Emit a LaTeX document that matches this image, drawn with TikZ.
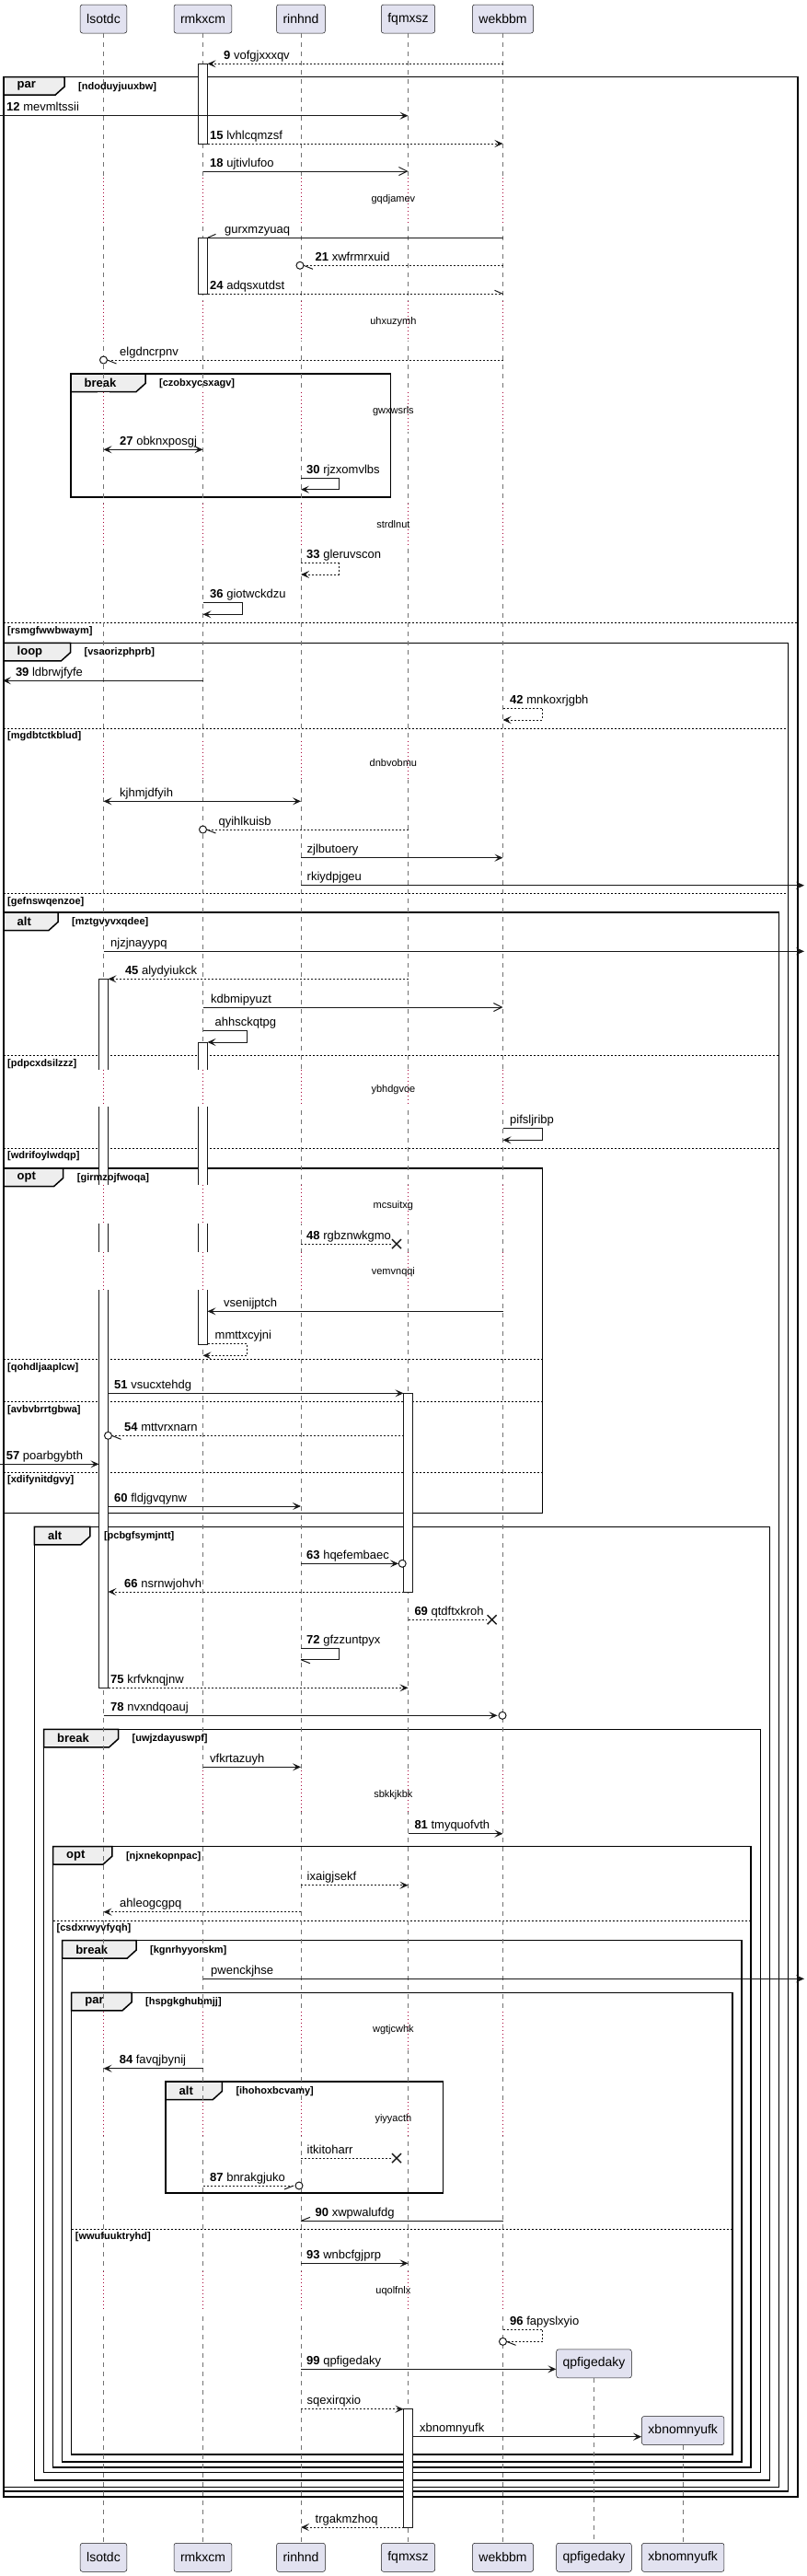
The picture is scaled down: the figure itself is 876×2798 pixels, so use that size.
\documentclass[tikz,border=0pt]{standalone}
\usepackage{fontspec}
\setmainfont{Liberation Sans}
\usetikzlibrary{arrows.meta}
\definecolor{partfill}{HTML}{E2E2F0}
\definecolor{partdraw}{HTML}{181818}
\definecolor{tabfill}{HTML}{EEEEEE}
\definecolor{dlyred}{HTML}{A80036}
\def\xL{112.5}\def\xR{220.5}\def\xN{327}\def\xF{443.5}\def\xW{546.5}\def\xQ{645.5}\def\xX{742.2}
\newcommand{\msgline}[7]{%
  \coordinate (#1a) at (#2,#4);
  \coordinate (#1b) at (#3,#4);
  \draw[#5] (#1a) -- (#1b);
  \node[lbl] (#1t) at (#6,#4-5) {#7};}
\newcommand{\selfmsg}[9]{%
  \coordinate (#1a) at (#2,#5);
  \coordinate (#1c) at (#4,#6);
  \draw[#7] (#1a) -- (#3,#5) -- (#3,#6) -- (#1c);
  \node[lbl] (#1t) at (#8,#5-5) {#9};}
\newcommand{\sqfrm}[7]{%
  \draw[frm] (#2,#3) rectangle (#4,#5);
  \draw[frm, fill=tabfill] (#2,#3) -- (#7,#3) -- (#7,#3+10.5) -- (#7-10,#3+19.5) -- (#2,#3+19.5) -- cycle;
  \node[kindlbl] (#1k) at (#2+14.5,#3+10) {#6};}
\newcommand{\sqguard}[4]{\node[grd] (#1g) at (#2+15,#3+10.5) {#4};}
\newcommand{\sqdiv}[3]{\draw[divl] (#1,#3) -- (#2,#3);}
\newcommand{\sqdivlbl}[4]{\node[grd] (#1) at (#2+4,#3+8.5) {#4};}
\newcommand{\sqdelay}[5]{%
  \foreach \xx in {\xL,\xR,\xN,\xF,\xW} {\fill[white] (\xx-6.5,#2) rectangle (\xx+6.5,#3); \draw[dlyline] (\xx,#2) -- (\xx,#3);}
  \node[dlytxt] (#1) at (427.4,#4) {#5};}
\newcommand{\lostx}[3]{\draw[sol, line width=1.4pt] (#2-5,#3-5) -- (#2+5,#3+5) (#2-5,#3+5) -- (#2+5,#3-5);}
\begin{document}
\begin{tikzpicture}[x=1pt,y=-1pt,
  part/.style={draw=partdraw, fill=partfill, rounded corners=2.5pt, minimum height=31pt, inner xsep=7pt, inner ysep=0pt, font=\fontsize{14}{16}\selectfont, line width=0.5pt},
  life/.style={draw=black!55, dash pattern=on 5pt off 5pt, line width=0.6pt},
  act/.style={draw=partdraw, fill=white, line width=0.8pt},
  frm/.style={draw=black, line width=1.5pt},
  divl/.style={draw=black, line width=1pt, dash pattern=on 2pt off 2pt},
  kindlbl/.style={font=\bfseries\fontsize{13}{15}\selectfont, inner sep=0pt, anchor=west},
  grd/.style={font=\bfseries\fontsize{11}{13}\selectfont, inner sep=0pt, anchor=west},
  lbl/.style={font=\fontsize{13}{15}\selectfont, inner sep=0pt, anchor=base west},
  dlytxt/.style={font=\fontsize{11}{13}\selectfont, inner sep=0pt},
  dlyline/.style={draw=dlyred, line width=1pt, dash pattern=on 1pt off 3pt},
  sol/.style={draw=partdraw, line width=1pt},
  dot/.style={draw=partdraw, line width=1pt, dash pattern=on 2pt off 2pt},
  hd/.style={-{Stealth[length=9pt,width=8pt,inset=4pt]}},
  hdb/.style={{Stealth[length=9pt,width=8pt,inset=4pt]}-{Stealth[length=9pt,width=8pt,inset=4pt]}},
  oh/.style={-{Straight Barb[length=9pt,width=9pt]}},
  circ/.style={draw=partdraw, fill=white, line width=1pt}]
\useasboundingbox (0,0) rectangle (876,2798);
\fill[white] (0,0) rectangle (876,2798);
% frames
\sqfrm{f1}{4}{83.7}{867}{2712}{par}{70}
\sqdiv{4}{867}{676.7}
\sqfrm{f1b}{77}{406}{424.6}{540}{break}{158}
\sqfrm{f2}{4}{698.3}{856.4}{2706}{loop}{76.5}
\sqdiv{4}{856.4}{791}
\sqdiv{4}{856.4}{970.7}
\sqfrm{f3}{4}{991}{846.4}{2701.7}{alt}{63}
\sqdiv{4}{846.4}{1146.7}
\sqdiv{4}{846.4}{1247.3}
\sqfrm{f4}{4}{1269}{589.4}{1643.3}{opt}{68.7}
\sqdiv{4}{589.4}{1476.7}
\sqdiv{4}{589.4}{1522.7}
\sqdiv{4}{589.4}{1599.3}
\sqfrm{f5}{37.4}{1658.3}{836.3}{2694}{alt}{97.8}
\sqfrm{f6}{47.5}{1878.3}{826.3}{2685.7}{break}{128.5}
\sqfrm{f7}{57.5}{2005.7}{816.2}{2680}{opt}{121.8}
\sqdiv{57.5}{816.2}{2086}
\sqfrm{f8}{67.6}{2107.7}{806.1}{2674}{break}{148}
\sqfrm{f9}{77.7}{2164.3}{796}{2666}{par}{143}
\sqdiv{77.7}{796}{2421}
\sqfrm{f10}{180}{2261}{481.6}{2382}{alt}{241.3}
% participants
\node[part] (pL) at (\xL,20.5) {lsotdc};
\node[part] (pR) at (\xR,20.5) {rmkxcm};
\node[part] (pN) at (\xN,20.5) {rinhnd};
\node[part] (pF) at (\xF,20.5) {fqmxsz};
\node[part] (pW) at (\xW,20.5) {wekbbm};
\node[part] (qL) at (\xL,2777.8) {lsotdc};
\node[part] (qR) at (\xR,2777.8) {rmkxcm};
\node[part] (qN) at (\xN,2777.8) {rinhnd};
\node[part] (qF) at (\xF,2777.8) {fqmxsz};
\node[part] (qW) at (\xW,2777.8) {wekbbm};
\node[part] (qQ) at (\xQ,2777.8) {qpfigedaky};
\node[part] (qX) at (\xX,2777.8) {xbnomnyufk};
\node[part] (pQ) at (\xQ,2567.3) {qpfigedaky};
\node[part] (pX) at (\xX,2640) {xbnomnyufk};
% lifelines
\foreach \a/\b in {pL/qL,pR/qR,pN/qN,pF/qF,pW/qW,pQ/qQ,pX/qX} {\draw[life] (\a.south) -- (\b.north);}
% activations
\filldraw[act] (\xR-5,69.3) rectangle (\xR+5,156);
\filldraw[act] (\xR-5,258.3) rectangle (\xR+5,319.3);
\filldraw[act] (\xL-5,1063.3) rectangle (\xL+5,1833.3);
\filldraw[act] (\xR-5,1132) rectangle (\xR+5,1460);
\filldraw[act] (\xF-5,1513.3) rectangle (\xF+5,1729);
\filldraw[act] (\xF-5,2616.7) rectangle (\xF+5,2745);
% delays
\sqdelay{dl1}{193.3}{243.3}{216.7}{gqdjamev}
\sqdelay{dl2}{326.7}{370}{349.3}{uhxuzymh}
\sqdelay{dl3}{426}{469}{446.7}{gwxwsrls}
\sqdelay{dl4}{546.7}{591.7}{569.3}{strdlnut}
\sqdelay{dl5}{805}{846.7}{828.3}{dnbvobmu}
\sqdelay{dl6}{1161.7}{1201.7}{1183.3}{ybhdgvoe}
\sqdelay{dl7}{1287.3}{1329}{1310}{mcsuitxg}
\sqdelay{dl8}{1360}{1400.7}{1381.7}{vemvnqqi}
\sqdelay{dl9}{1923.3}{1968.3}{1949.3}{sbkkjkbk}
\sqdelay{dl10}{2185}{2226.7}{2204.3}{wgtjcwhk}
\sqdelay{dl11}{2283}{2320}{2301.7}{yiyyacth}
\sqdelay{dl12}{2467}{2511}{2489}{uqolfnlx}
% guards
\sqguard{f1}{70}{83.7}{[ndoduyjuuxbw]}
\sqguard{f1b}{158}{406}{[czobxycsxagv]}
\sqguard{f2}{76.5}{698.3}{[vsaorizphprb]}
\sqguard{f3}{63}{991}{[mztgvyvxqdee]}
\sqguard{f4}{68.7}{1269}{[girmzojfwoqa]}
\sqguard{f5}{97.8}{1658.3}{[pcbgfsymjntt]}
\sqguard{f6}{128.5}{1878.3}{[uwjzdayuswpf]}
\sqguard{f7}{121.8}{2005.7}{[njxnekopnpac]}
\sqguard{f8}{148}{2107.7}{[kgnrhyyorskm]}
\sqguard{f9}{143}{2164.3}{[hspgkghubmjj]}
\sqguard{f10}{241.3}{2261}{[ihohoxbcvamy]}
\sqdivlbl{d1}{4}{676.7}{[rsmgfwwbwaym]}
\sqdivlbl{d2}{4}{791}{[mgdbtctkblud]}
\sqdivlbl{d3}{4}{970.7}{[gefnswqenzoe]}
\sqdivlbl{d4}{4}{1146.7}{[pdpcxdsilzzz]}
\sqdivlbl{d5}{4}{1247.3}{[wdrifoylwdqp]}
\sqdivlbl{d6}{4}{1476.7}{[qohdljaaplcw]}
\sqdivlbl{d7}{4}{1522.7}{[avbvbrrtgbwa]}
\sqdivlbl{d8}{4}{1599.3}{[xdifynitdgvy]}
\sqdivlbl{d9}{57.5}{2086}{[csdxrwyvfyqh]}
\sqdivlbl{d10}{77.7}{2421}{[wwufuuktryhd]}
% messages
\msgline{m9}{\xW}{\xR+5}{69.3}{dot,hd}{243}{\textbf{9} vofgjxxxqv}
\msgline{m12}{0}{\xF}{125.7}{sol,hd}{7}{\textbf{12} mevmltssii}
\msgline{m15}{\xR+5}{\xW}{156}{dot,hd}{228}{\textbf{15} lvhlcqmzsf}
\msgline{m18}{\xR}{\xF}{186}{sol,oh}{228}{\textbf{18} ujtivlufoo}
\msgline{m19}{\xW}{\xR+5}{258.3}{sol}{244}{gurxmzyuaq}
\draw[sol] (m19b) -- ++(9,-4);
\msgline{m21}{\xW}{\xN+3}{288.3}{dot}{342.5}{\textbf{21} xwfrmrxuid}
\draw[circ] (\xN-1,288.3) circle (4pt);
\draw[sol] (m21b) -- ++(10,4);
\msgline{m24}{\xR+5}{\xW}{319.3}{dot}{228}{\textbf{24} adqsxutdst}
\draw[sol] (m24b) -- ++(-9,-4);
\msgline{m26}{\xW}{\xL+4}{391}{dot}{130}{elgdncrpnv}
\draw[circ] (\xL,391) circle (4pt);
\draw[sol] (m26b) -- ++(10,4);
\msgline{m27}{\xL}{\xR}{488.3}{sol,hdb}{130}{\textbf{27} obknxposgj}
\selfmsg{m30}{\xN}{368}{\xN}{519.3}{531.7}{sol,hd}{333}{\textbf{30} rjzxomvlbs}
\selfmsg{m33}{\xN}{368}{\xN}{611.7}{624}{dot,hd}{333}{\textbf{33} gleruvscon}
\selfmsg{m36}{\xR}{263.7}{\xR}{654.3}{667.3}{sol,hd}{228}{\textbf{36} giotwckdzu}
\msgline{m39}{\xR}{3}{739.3}{sol,hd}{16.8}{\textbf{39} ldbrwjfyfe}
\selfmsg{m42}{\xW}{589.4}{\xW}{769.3}{782}{dot,hd}{554}{\textbf{42} mnkoxrjgbh}
\msgline{m43}{\xL}{\xN}{870.3}{sol,hdb}{130}{kjhmjdfyih}
\msgline{m44}{\xF}{\xR+4}{901}{dot}{237.4}{qyihlkuisb}
\draw[circ] (\xR,901) circle (4pt);
\draw[sol] (m44b) -- ++(10,4);
\msgline{m44b}{\xN}{\xW}{931.7}{sol,hd}{333.5}{zjlbutoery}
\msgline{m44c}{\xN}{874}{961.7}{sol,hd}{333.5}{rkiydpjgeu}
\msgline{m44d}{\xL}{874}{1033.3}{sol,hd}{120}{njzjnayypq}
\msgline{m45}{\xF}{\xL+5}{1063.3}{dot,hd}{135.8}{\textbf{45} alydyiukck}
\msgline{m46}{\xR}{\xW}{1094}{sol,oh}{229}{kdbmipyuzt}
\selfmsg{m47}{\xR}{268.2}{\xR+5}{1119.3}{1132}{sol,hd}{233.5}{ahhsckqtpg}
\selfmsg{m47b}{\xW}{589.4}{\xW}{1225.7}{1238.3}{sol,hd}{554}{pifsljribp}
\msgline{m48}{\xN}{426}{1351}{dot}{333}{\textbf{48} rgbznwkgmo}
\lostx{x48}{431}{1351}
\msgline{m49}{\xW}{\xR+5}{1424.3}{sol,hd}{243}{vsenijptch}
\selfmsg{m50}{\xR+5}{268.2}{\xR}{1459.3}{1472.3}{dot,hd}{233.5}{mmttxcyjni}
\msgline{m51}{\xL+5}{\xF-5}{1513.3}{sol,hd}{124}{\textbf{51} vsucxtehdg}
\msgline{m54}{\xF-5}{\xL+9}{1559.3}{dot}{135}{\textbf{54} mttvrxnarn}
\draw[circ] (\xL+5,1559.3) circle (4pt);
\draw[sol] (m54b) -- ++(10,4);
\msgline{m57}{0}{\xL-5}{1590.3}{sol,hd}{6.7}{\textbf{57} poarbgybth}
\msgline{m60}{\xL+5}{\xN}{1636}{sol,hd}{124}{\textbf{60} fldjgvqynw}
\msgline{m63}{\xN}{433}{1698.3}{sol,hd}{333}{\textbf{63} hqefembaec}
\draw[circ] (437.2,1698.3) circle (4pt);
\msgline{m66}{\xF-5}{\xL+5}{1729}{dot,hd}{135}{\textbf{66} nsrnwjohvh}
\msgline{m69}{\xF}{529}{1759.3}{dot}{450.3}{\textbf{69} qtdftxkroh}
\lostx{x69}{534.6}{1759.3}
\selfmsg{m72}{\xN}{368.2}{\xN}{1790.3}{1802.7}{sol}{333}{\textbf{72} gfzzuntpyx}
\draw[sol] (m72c) -- ++(10,4);
\msgline{m75}{\xL+5}{\xF}{1833.3}{dot,hd}{120}{\textbf{75} krfvknqjnw}
\msgline{m78}{\xL}{\xW-6}{1863.3}{sol,hd}{120}{\textbf{78} nvxndqoauj}
\draw[circ] (\xW-0.5,1863.3) circle (4pt);
\msgline{m79}{\xR}{\xN}{1919.3}{sol,hd}{228}{vfkrtazuyh}
\msgline{m81}{\xF}{\xW}{1991.7}{sol,hd}{450.3}{\textbf{81} tmyquofvth}
\msgline{m82}{\xN}{\xF}{2047.7}{dot,hd}{333.5}{ixaigjsekf}
\msgline{m83}{\xN}{\xL}{2076.7}{dot,hd}{130}{ahleogcgpq}
\msgline{m83b}{\xR}{874}{2149.3}{sol,hd}{229}{pwenckjhse}
\msgline{m84}{\xR}{\xL}{2246.7}{sol,hd}{129.6}{\textbf{84} favqjbynij}
\msgline{m85}{\xN}{426}{2344}{dot}{333.5}{itkitoharr}
\lostx{x85}{431}{2344}
\msgline{m87}{\xR}{\xN-6}{2374}{dot}{228}{\textbf{87} bnrakgjuko}
\draw[circ] (\xN-2,2374) circle (4pt);
\draw[sol] (\xN-8,2374) -- ++(-10,4);
\msgline{m90}{\xW}{\xN}{2412.3}{sol}{342.5}{\textbf{90} xwpwalufdg}
\draw[sol] (m90b) -- ++(10,-4);
\msgline{m93}{\xN}{\xF}{2458.3}{sol,hd}{333}{\textbf{93} wnbcfgjprp}
\selfmsg{m96}{\xW}{589.4}{\xW+4}{2530}{2543.3}{dot}{554}{\textbf{96} fapyslxyio}
\draw[circ] (\xW,2543.3) circle (4pt);
\draw[sol] (m96c) -- ++(10,4);
\coordinate (m99a) at (\xN,2573.3);
\draw[sol,hd] (m99a) -- (m99a -| pQ.west);
\node[lbl] (m99t) at (333,2568.3) {\textbf{99} qpfigedaky};
\msgline{m100}{\xN}{\xF-5}{2616.7}{dot,hd}{333.5}{sqexirqxio}
\coordinate (m101a) at (\xF+5,2646.7);
\draw[sol,hd] (m101a) -- (m101a -| pX.west);
\node[lbl] (m101t) at (456,2641.7) {xbnomnyufk};
\msgline{m102}{\xF-5}{\xN}{2745}{dot,hd}{342.5}{trgakmzhoq}
\end{tikzpicture}
\end{document}
